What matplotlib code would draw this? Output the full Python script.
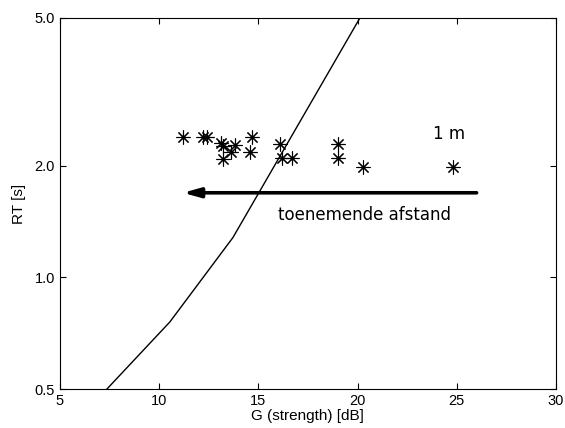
import matplotlib
matplotlib.use("Agg")
import matplotlib.pyplot as plt
from matplotlib.ticker import FixedLocator, FixedFormatter, NullLocator

# measured points (G in dB, RT in s)
g_meas = [11.2, 12.2, 12.4, 13.1, 13.2, 13.8, 13.6, 13.2, 14.7, 14.6,
          16.1, 16.2, 16.7, 19.0, 19.0, 20.3, 24.8]
rt_meas = [2.39, 2.39, 2.39, 2.30, 2.26, 2.27, 2.18, 2.08, 2.39, 2.18,
           2.29, 2.10, 2.10, 2.29, 2.10, 1.98, 1.98]

# theoretical curve
g_curve = [7.37, 10.54, 13.72, 20.12]
rt_curve = [0.5, 0.758, 1.28, 5.0]

x_ticks = [5, 10, 15, 20, 25, 30]
y_ticks = [0.5, 1.0, 2.0, 5.0]
y_labels = ["0.5", "1.0", "2.0", "5.0"]

plt.rcParams['font.family'] = ['Liberation Sans', 'DejaVu Sans']

fig = plt.figure(figsize=(5.65, 4.28), dpi=100)
ax = fig.add_axes([0.106, 0.091, 0.878, 0.867])

ax.plot(g_curve, rt_curve, color="black", lw=1.0)
ax.plot(g_meas, rt_meas, linestyle="none", marker=(8, 2, 0), markersize=10,
        markeredgewidth=0.8, color="black")

ax.annotate("", xy=(11.2, 1.69), xytext=(26.0, 1.69),
            arrowprops=dict(arrowstyle="-|>,head_length=1.0,head_width=0.28",
                            color="black", lw=2.6, shrinkA=0, shrinkB=0))
ax.text(23.8, 2.43, "1 m", fontsize=12, family="DejaVu Sans", va="center")
ax.text(16.0, 1.476, "toenemende afstand", fontsize=12, family="DejaVu Sans",
        va="center")

ax.set_yscale("log")
ax.set_xlim(5, 30)
ax.set_ylim(0.5, 5.0)
ax.xaxis.set_major_locator(FixedLocator(x_ticks))
ax.yaxis.set_major_locator(FixedLocator(y_ticks))
ax.yaxis.set_major_formatter(FixedFormatter(y_labels))
ax.yaxis.set_minor_locator(NullLocator())
ax.tick_params(direction="in", top=True, right=True, length=4, labelsize=10.5)
for s in ax.spines.values():
    s.set_linewidth(0.8)

ax.set_xlabel("G (strength) [dB]", fontsize=11, labelpad=1)
ax.set_ylabel("RT [s]", fontsize=11, labelpad=6)

fig.savefig("out.png", dpi=100)
